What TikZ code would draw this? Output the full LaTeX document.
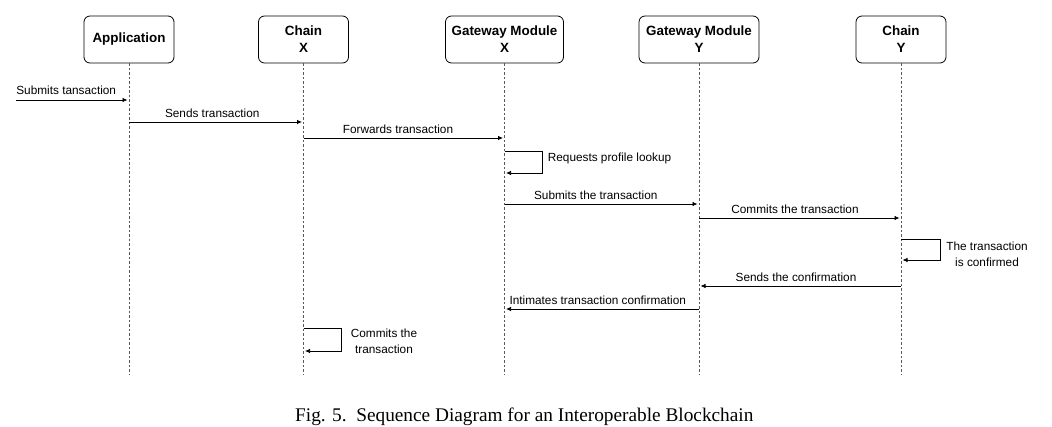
\documentclass[tikz,border=0pt]{standalone}
\usepackage{fontspec}
\newfontfamily\diagfont{Liberation Sans}
\newfontfamily\capfont{Liberation Serif}
\usetikzlibrary{arrows.meta}

\tikzset{
	actor/.style={draw, rounded corners=6pt, line width=0.8pt, minimum height=47pt, inner sep=0pt, align=center, font=\diagfont\fontsize{13.4}{17}\selectfont\bfseries},
	lifeline/.style={draw=black!65, line width=0.7pt, dash pattern=on 2.5pt off 2pt},
	msg/.style={line width=0.75pt, -{Latex[length=5pt,width=4.5pt]}, shorten >=1.5pt},
	msglabel/.style={font=\diagfont\fontsize{11.8}{16}\selectfont, inner sep=0pt, align=center},
}

\begin{document}
\begin{tikzpicture}[x=1pt, y=-1pt]
		%%%%% START %%%%%
		\useasboundingbox (0, 0) rectangle (1052, 427);
		
		% participants
		\node[actor, minimum width=90pt] (app) at (129, 39.5) {Application};
		\node[actor, minimum width=90pt] (chx) at (303.5, 39.5) {Chain\\X};
		\node[actor, minimum width=118pt] (gwx) at (504.5, 39.5) {Gateway Module\\X};
		\node[actor, minimum width=120pt] (gwy) at (699, 39.5) {Gateway Module\\Y};
		\node[actor, minimum width=90pt] (chy) at (901, 39.5) {Chain\\Y};
		
		% lifelines
		\coordinate (bot) at (0, 374);
		\foreach \p in {app, chx, gwx, gwy, chy}
			\draw[lifeline] (\p.south) -- (\p |- bot);
		
		% message rows
		\coordinate (m1) at (16, 100);
		\coordinate (m2) at (0, 122);
		\coordinate (m3) at (0, 138);
		\coordinate (l1a) at (0, 151);
		\coordinate (l1b) at (0, 173);
		\coordinate (m4) at (0, 204);
		\coordinate (m5) at (0, 218);
		\coordinate (l2a) at (0, 239);
		\coordinate (l2b) at (0, 260);
		\coordinate (m6) at (0, 286);
		\coordinate (m7) at (0, 309);
		\coordinate (l3a) at (0, 328);
		\coordinate (l3b) at (0, 351);
		
		\draw[msg] (m1) -- (app |- m1) node[msglabel, pos=0, anchor=base west, yshift=5pt] {Submits tansaction};
		\draw[msg] (app |- m2) -- (chx |- m2) node[msglabel, midway, anchor=base, xshift=-4pt, yshift=4pt] {Sends transaction};
		\draw[msg] (chx |- m3) -- (gwx |- m3) node[msglabel, midway, anchor=base, xshift=-6pt, yshift=4pt] {Forwards transaction};
		
		\draw[msg] (gwx |- l1a) -- ++(38, 0) node[msglabel, anchor=west, xshift=5pt, yshift=-7pt] {Requests profile lookup} |- (gwx |- l1b);
		
		\draw[msg] (gwx |- m4) -- (gwy |- m4) node[msglabel, midway, anchor=base, xshift=-6pt, yshift=4pt] {Submits the transaction};
		\draw[msg] (gwy |- m5) -- (chy |- m5) node[msglabel, midway, anchor=base, xshift=-5pt, yshift=4pt] {Commits the transaction};
		
		\draw[msg] (chy |- l2a) -- ++(39, 0) node[msglabel, anchor=north west, xshift=6pt, yshift=-3pt] {The transaction\\is confirmed} |- (chy |- l2b);
		
		\draw[msg] (chy |- m6) -- (gwy |- m6) node[msglabel, midway, anchor=base, xshift=-4pt, yshift=4pt] {Sends the confirmation};
		\draw[msg] (gwy |- m7) -- (gwx |- m7) node[msglabel, midway, anchor=base, xshift=-4pt, yshift=4pt] {Intimates transaction confirmation};
		
		\draw[msg] (chx |- l3a) -- ++(38, 0) node[msglabel, anchor=north west, xshift=9pt, yshift=-1pt] {Commits the\\transaction} |- (chx |- l3b);
		
		% caption
		\node[anchor=base west, inner sep=0pt, font=\capfont\fontsize{19.3}{22}\selectfont] (cap) at (295, 421) {Fig. 5.\enspace Sequence Diagram for an Interoperable Blockchain};
		
		%%%%% END %%%%%
	\end{tikzpicture}
\end{document}
